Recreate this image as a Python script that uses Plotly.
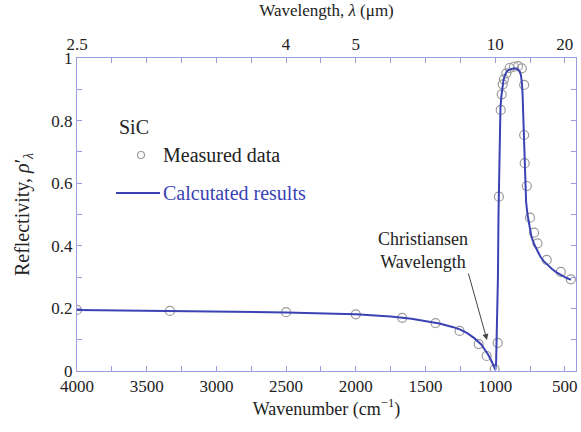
import plotly.graph_objects as go

# Measured data (wavenumber cm^-1, reflectivity)
meas_wn = [4000, 3333, 2500, 2000, 1667, 1428, 1255, 1118, 1061, 1004, 982, 973, 960, 953, 946, 937,
           920, 896, 865, 836, 809, 792, 792, 788, 773, 750, 721, 696, 630, 529, 457]
meas_r = [0.195, 0.192, 0.188, 0.181, 0.170, 0.153, 0.128, 0.086, 0.048, 0.006, 0.09, 0.557, 0.834, 0.884, 0.916, 0.932,
          0.951, 0.968, 0.972, 0.974, 0.967, 0.914, 0.754, 0.664, 0.591, 0.490, 0.442, 0.408, 0.355, 0.317, 0.293]

# Calculated results
calc_wn = [4000, 3500, 3000, 2500, 2000, 1750, 1600, 1500, 1400, 1300, 1250, 1200, 1150, 1100, 1075, 1050,
           1030, 1015, 1005, 998, 993, 985, 980, 976, 972, 967, 962, 955, 948, 940, 930, 915, 900, 880,
           860, 840, 825, 815, 808, 803, 798, 794, 790, 785, 778, 768, 755, 740, 720, 700, 675, 650,
           620, 590, 560, 530, 500, 470, 455]
calc_r = [0.195, 0.193, 0.190, 0.187, 0.181, 0.174, 0.167, 0.160, 0.152, 0.140, 0.132, 0.121, 0.105, 0.085, 0.070, 0.052,
          0.035, 0.020, 0.008, 0.004, 0.03, 0.15, 0.30, 0.50, 0.65, 0.78, 0.84, 0.88, 0.91, 0.93, 0.945, 0.958, 0.963, 0.966,
          0.967, 0.965, 0.958, 0.945, 0.92, 0.88, 0.80, 0.72, 0.65, 0.59, 0.54, 0.50, 0.46, 0.43, 0.405, 0.385, 0.365, 0.350,
          0.337, 0.325, 0.315, 0.307, 0.300, 0.294, 0.292]

bottom_ticks = list(range(500, 4001, 250))
bottom_labels = [str(v) if v % 500 == 0 else "" for v in bottom_ticks]
top_label_map = {4000: "2.5", 2500: "4", 2000: "5", 1000: "10", 500: "20"}
top_labels = [top_label_map.get(v, "") for v in bottom_ticks]
y_ticks = [i / 10 for i in range(11)]
y_labels = ["0", "", "0.2", "", "0.4", "", "0.6", "", "0.8", "", "1"]

AX = "#9a9ee0"
BLUE = "#3a42b4"
FONT = "Liberation Serif"
XR = [4000, 420]
W, H = 581, 432
ML, MR, MT, MB = 77, 5, 58, 61


def px2paper(px, py):
    return (px - ML) / (W - ML - MR), 1 - (py - MT) / (H - MT - MB)


fig = go.Figure()
fig.add_trace(go.Scatter(x=meas_wn, y=meas_r, mode="markers",
                         marker=dict(symbol="circle-open", size=9, color="#9a9a9a", line=dict(width=1.2)),
                         showlegend=False))
fig.add_trace(go.Scatter(x=calc_wn, y=calc_r, mode="lines", line=dict(color=BLUE, width=2),
                         showlegend=False))
fig.add_trace(go.Scatter(x=[4000], y=[None], xaxis="x2", mode="markers", showlegend=False,
                         hoverinfo="skip"))

# legend symbols drawn in a hidden paper-like axis pair
x, y = px2paper(141, 155)
fig.add_trace(go.Scatter(x=[x], y=[y], xaxis="x3", yaxis="y3", mode="markers", showlegend=False,
                         marker=dict(symbol="circle-open", size=7, color="#9a9a9a", line=dict(width=1.2))))
x1, y1 = px2paper(116, 193)
x2, _ = px2paper(160, 193)
fig.add_trace(go.Scatter(x=[x1, x2], y=[y1, y1], xaxis="x3", yaxis="y3", mode="lines", showlegend=False,
                         line=dict(color=BLUE, width=2)))

fig.update_layout(
    width=W, height=H,
    margin=dict(l=ML, r=MR, t=MT, b=MB, autoexpand=False),
    paper_bgcolor="white", plot_bgcolor="white",
    font=dict(family=FONT, size=17, color="#222"),
    xaxis=dict(range=XR, tickvals=bottom_ticks, ticktext=bottom_labels, ticks="inside", ticklen=5,
               tickcolor=AX, showline=True, linecolor=AX, mirror=True, showgrid=False, zeroline=False,
               automargin=False,
               title=dict(text="Wavenumber (cm<sup>−1</sup>)", font=dict(size=18), standoff=0)),
    xaxis2=dict(range=XR, overlaying="x", side="top", tickvals=bottom_ticks, ticktext=top_labels,
                ticks="inside", ticklen=5, tickcolor=AX, showline=True, linecolor=AX, showgrid=False,
                zeroline=False, automargin=False,
                title=dict(text="Wavelength, <i>λ</i> (μm)", font=dict(size=17), standoff=14)),
    yaxis=dict(range=[0, 1], tickvals=y_ticks, ticktext=y_labels, ticks="inside", ticklen=5,
               tickcolor=AX, showline=True, linecolor=AX, mirror="ticks", showgrid=False, zeroline=False,
               automargin=False,
               title=dict(text="Reflectivity, <i>ρ</i>′<sub><i>λ</i></sub>", font=dict(size=20), standoff=16)),
    xaxis3=dict(range=[0, 1], overlaying="x", visible=False, anchor="y3"),
    yaxis3=dict(range=[0, 1], overlaying="y", visible=False, anchor="x3"),
)

x, y = px2paper(117, 127)
fig.add_annotation(x=x, y=y, xref="paper", yref="paper", text="SiC", showarrow=False,
                   xanchor="left", yanchor="middle", font=dict(size=20, color="#222"))
x, y = px2paper(161, 155)
fig.add_annotation(x=x, y=y, xref="paper", yref="paper", text="Measured data", showarrow=False,
                   xanchor="left", yanchor="middle", font=dict(size=20, color="#222"))
x, y = px2paper(161, 193)
fig.add_annotation(x=x, y=y, xref="paper", yref="paper", text="Calcutated results", showarrow=False,
                   xanchor="left", yanchor="middle", font=dict(size=20, color=BLUE))

# Christiansen annotation
tx, ty = px2paper(423, 250)
fig.add_annotation(x=tx, y=ty, xref="paper", yref="paper",
                   text="Christiansen<br>Wavelength", showarrow=False,
                   xanchor="center", yanchor="middle",
                   font=dict(size=18, color="#222"))
hx, hy = px2paper(487, 340)
fig.add_annotation(x=hx, y=hy, xref="paper", yref="paper", ax=-19, ay=-68,
                   text="", showarrow=True, arrowhead=2, arrowsize=1.2, arrowwidth=1, arrowcolor="#444")

fig.write_html("out.html", config={"displayModeBar": False},
               post_script="document.body.style.margin='0';document.body.style.overflow='hidden';")
